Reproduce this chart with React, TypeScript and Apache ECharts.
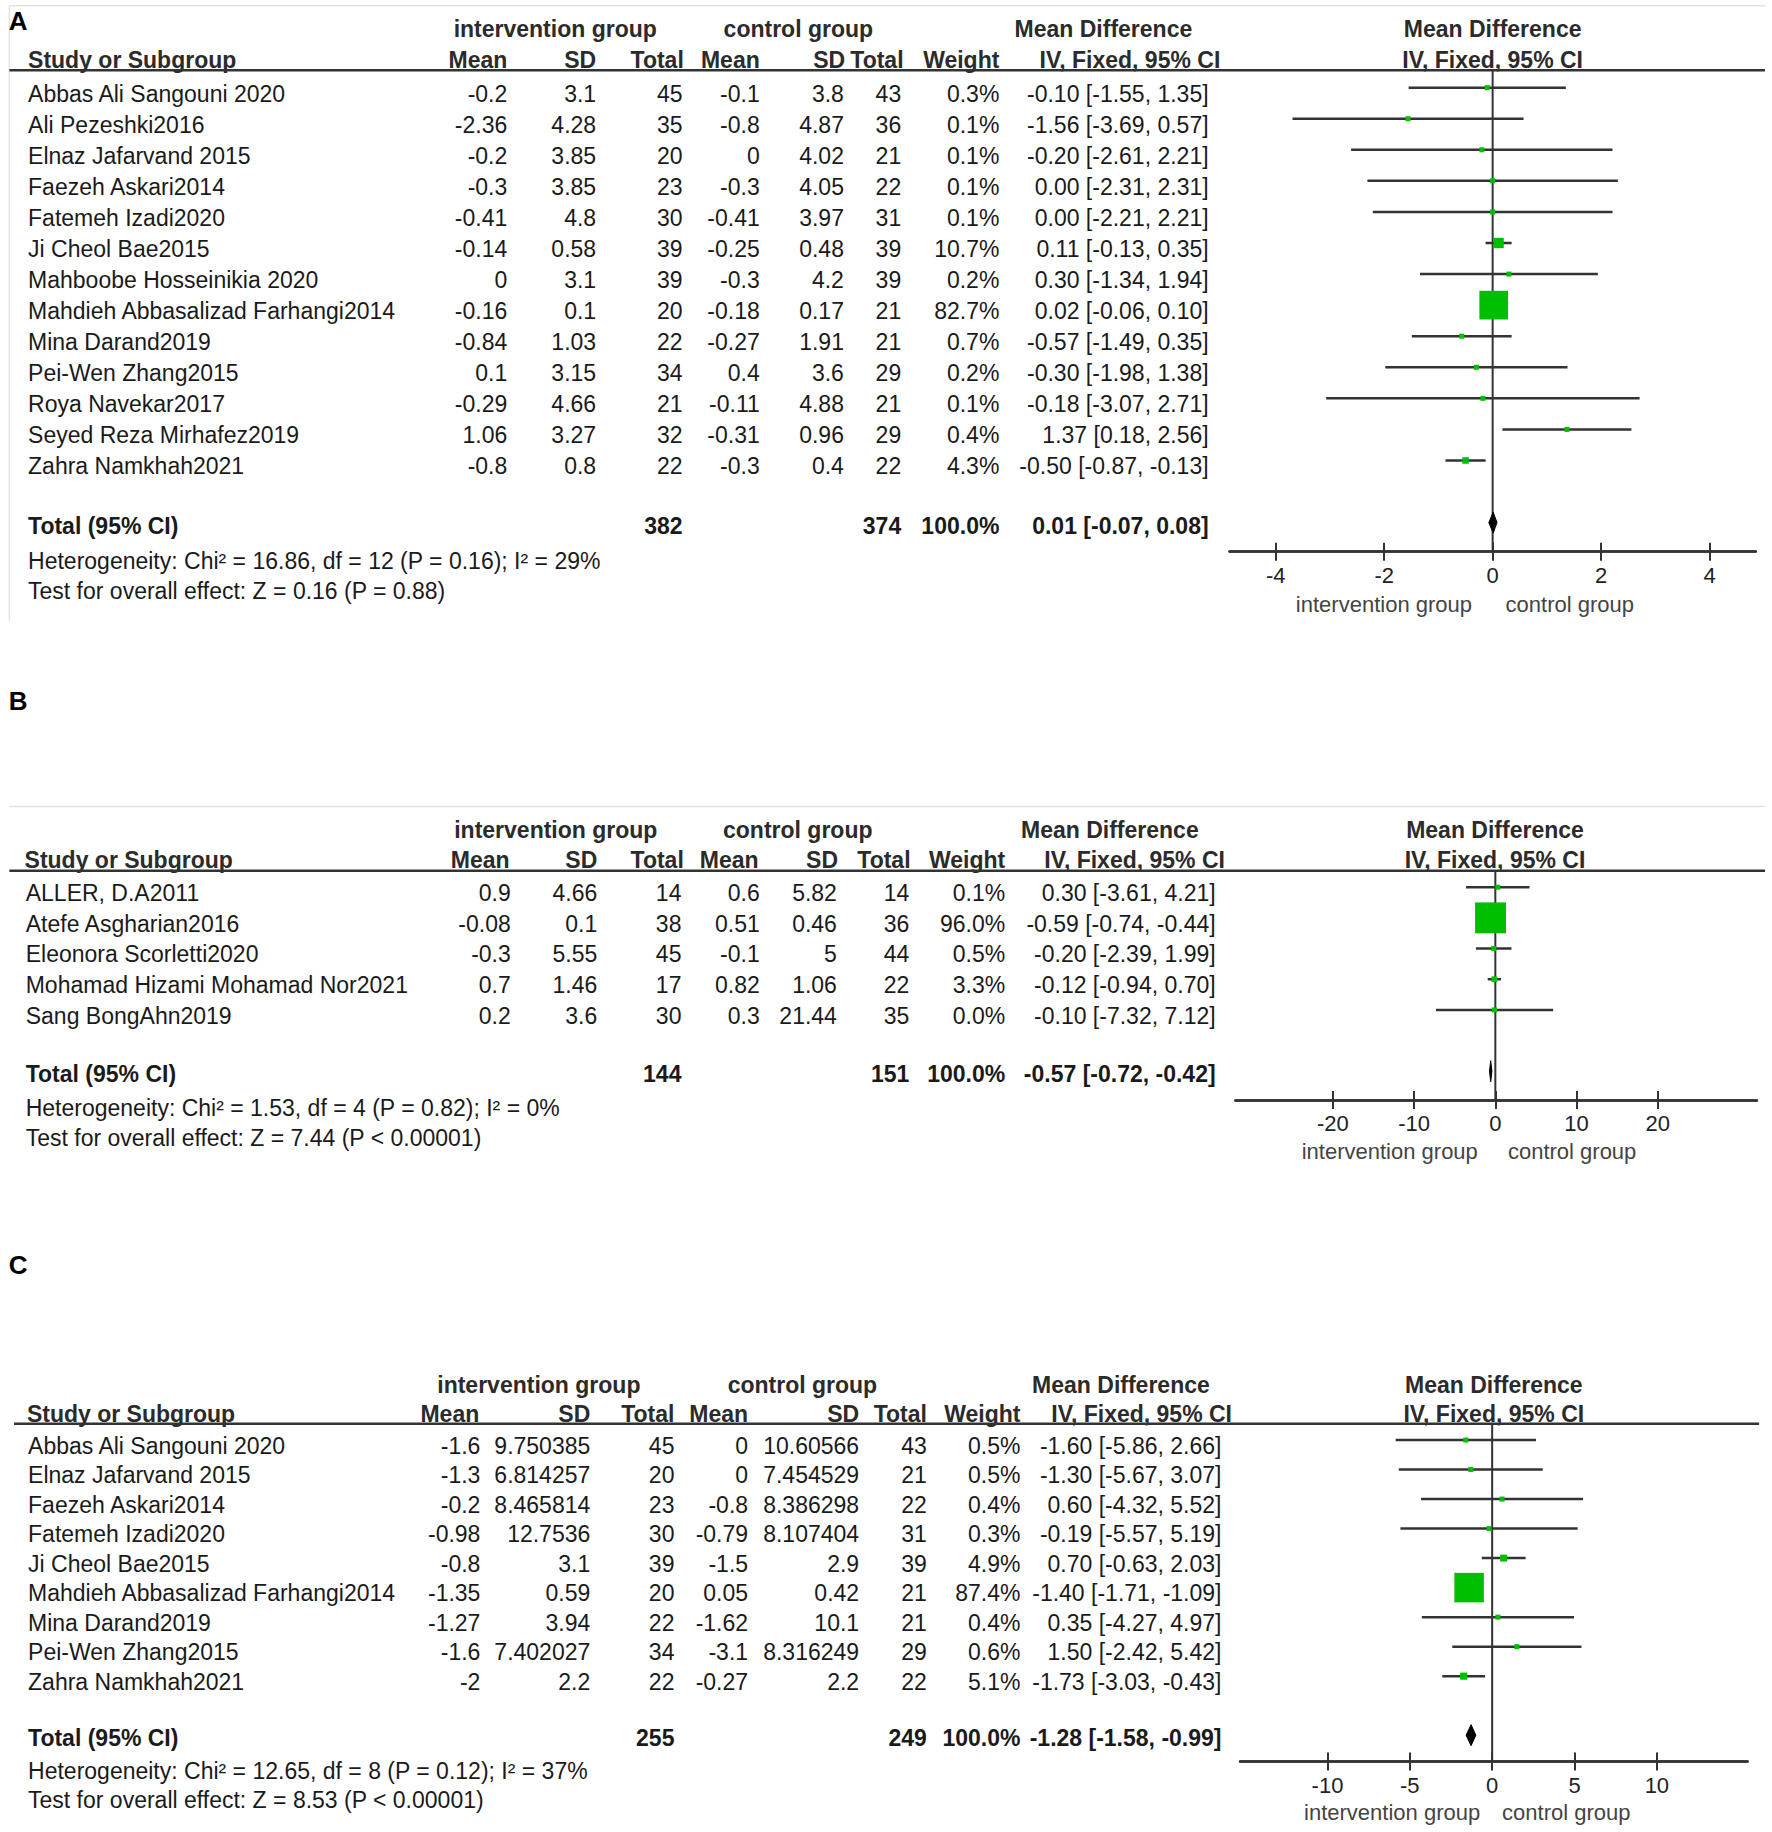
import React, { useEffect, useRef } from "react";
import * as echarts from "echarts";

const S = 1772 / 1516;
const FONT = '"Liberation Sans", Arial, Helvetica, sans-serif';
const TXT = "#1a1a1a";
const HDR = "#2b2b2b";
const LINE = "#333333";
const GREEN = "#00bf00";

// ---------- Panel A ----------
const aNames = [
  "Abbas Ali Sangouni 2020", "Ali Pezeshki2016", "Elnaz Jafarvand 2015", "Faezeh Askari2014",
  "Fatemeh Izadi2020", "Ji Cheol Bae2015", "Mahboobe Hosseinikia 2020", "Mahdieh Abbasalizad Farhangi2014",
  "Mina Darand2019", "Pei-Wen Zhang2015", "Roya Navekar2017", "Seyed Reza Mirhafez2019", "Zahra Namkhah2021",
];
const aIntMean = [-0.2, -2.36, -0.2, -0.3, -0.41, -0.14, 0, -0.16, -0.84, 0.1, -0.29, 1.06, -0.8];
const aIntSD = [3.1, 4.28, 3.85, 3.85, 4.8, 0.58, 3.1, 0.1, 1.03, 3.15, 4.66, 3.27, 0.8];
const aIntN = [45, 35, 20, 23, 30, 39, 39, 20, 22, 34, 21, 32, 22];
const aCtlMean = [-0.1, -0.8, 0, -0.3, -0.41, -0.25, -0.3, -0.18, -0.27, 0.4, -0.11, -0.31, -0.3];
const aCtlSD = [3.8, 4.87, 4.02, 4.05, 3.97, 0.48, 4.2, 0.17, 1.91, 3.6, 4.88, 0.96, 0.4];
const aCtlN = [43, 36, 21, 22, 31, 39, 39, 21, 21, 29, 21, 29, 22];
const aWeight = [0.3, 0.1, 0.1, 0.1, 0.1, 10.7, 0.2, 82.7, 0.7, 0.2, 0.1, 0.4, 4.3];
const aMD = [-0.1, -1.56, -0.2, 0.0, 0.0, 0.11, 0.3, 0.02, -0.57, -0.3, -0.18, 1.37, -0.5];
const aLo = [-1.55, -3.69, -2.61, -2.31, -2.21, -0.13, -1.34, -0.06, -1.49, -1.98, -3.07, 0.18, -0.87];
const aHi = [1.35, 0.57, 2.21, 2.31, 2.21, 0.35, 1.94, 0.1, 0.35, 1.38, 2.71, 2.56, -0.13];
const aTotal = { n1: 382, n2: 374, md: 0.01, lo: -0.07, hi: 0.08 };
const aHet = "Heterogeneity: Chi² = 16.86, df = 12 (P = 0.16); I² = 29%";
const aTest = "Test for overall effect: Z = 0.16 (P = 0.88)";
const aTicks = [-4, -2, 0, 2, 4];

// ---------- Panel B ----------
const bNames = [
  "ALLER, D.A2011", "Atefe Asgharian2016", "Eleonora Scorletti2020", "Mohamad Hizami Mohamad Nor2021", "Sang BongAhn2019",
];
const bIntMean = [0.9, -0.08, -0.3, 0.7, 0.2];
const bIntSD = [4.66, 0.1, 5.55, 1.46, 3.6];
const bIntN = [14, 38, 45, 17, 30];
const bCtlMean = [0.6, 0.51, -0.1, 0.82, 0.3];
const bCtlSD = [5.82, 0.46, 5, 1.06, 21.44];
const bCtlN = [14, 36, 44, 22, 35];
const bWeight = [0.1, 96.0, 0.5, 3.3, 0.0];
const bMD = [0.3, -0.59, -0.2, -0.12, -0.1];
const bLo = [-3.61, -0.74, -2.39, -0.94, -7.32];
const bHi = [4.21, -0.44, 1.99, 0.7, 7.12];
const bTotal = { n1: 144, n2: 151, md: -0.57, lo: -0.72, hi: -0.42 };
const bHet = "Heterogeneity: Chi² = 1.53, df = 4 (P = 0.82); I² = 0%";
const bTest = "Test for overall effect: Z = 7.44 (P < 0.00001)";
const bTicks = [-20, -10, 0, 10, 20];

// ---------- Panel C ----------
const cNames = [
  "Abbas Ali Sangouni 2020", "Elnaz Jafarvand 2015", "Faezeh Askari2014", "Fatemeh Izadi2020", "Ji Cheol Bae2015",
  "Mahdieh Abbasalizad Farhangi2014", "Mina Darand2019", "Pei-Wen Zhang2015", "Zahra Namkhah2021",
];
const cIntMean = [-1.6, -1.3, -0.2, -0.98, -0.8, -1.35, -1.27, -1.6, -2];
const cIntSD = [9.750385, 6.814257, 8.465814, 12.7536, 3.1, 0.59, 3.94, 7.402027, 2.2];
const cIntN = [45, 20, 23, 30, 39, 20, 22, 34, 22];
const cCtlMean = [0, 0, -0.8, -0.79, -1.5, 0.05, -1.62, -3.1, -0.27];
const cCtlSD = [10.60566, 7.454529, 8.386298, 8.107404, 2.9, 0.42, 10.1, 8.316249, 2.2];
const cCtlN = [43, 21, 22, 31, 39, 21, 21, 29, 22];
const cWeight = [0.5, 0.5, 0.4, 0.3, 4.9, 87.4, 0.4, 0.6, 5.1];
const cMD = [-1.6, -1.3, 0.6, -0.19, 0.7, -1.4, 0.35, 1.5, -1.73];
const cLo = [-5.86, -5.67, -4.32, -5.57, -0.63, -1.71, -4.27, -2.42, -3.03];
const cHi = [2.66, 3.07, 5.52, 5.19, 2.03, -1.09, 4.97, 5.42, -0.43];
const cTotal = { n1: 255, n2: 249, md: -1.28, lo: -1.58, hi: -0.99 };
const cHet = "Heterogeneity: Chi² = 12.65, df = 8 (P = 0.12); I² = 37%";
const cTest = "Test for overall effect: Z = 8.53 (P < 0.00001)";
const cTicks = [-10, -5, 0, 5, 10];

const header1 = ["intervention group", "control group", "Mean Difference", "Mean Difference"];
const header2 = ["Mean", "SD", "Total", "Mean", "SD", "Total", "Weight", "IV, Fixed, 95% CI"];
const groupLabels = ["intervention group", "control group"];

// layout (in reference-display units, scaled by S)
const panels = [
  {
    letter: "A", letterY: 18, frameTop: 5, frameLeftBottom: 531,
    h1Y: 25, h2Y: 51, lineY: 60, lineX: [8, 1510], rowTop: 80, rowStep: 26.58, totalY: 450, hetY: 480, testY: 506,
    axisY: 472, fx: [1052, 1502], xr: [-4.85, 4.85], ticks: aTicks, grpY: 517, grpX: [1184, 1343],
    h1X: [475, 683, 944, 1277], h2X: [434, 510, 585, 650, 723, 773, 855, 1044], ivX: 1277, studyX: 24,
    dX: [434, 510, 584, 650, 722, 771, 855, 1034], nameX: 24,
    names: aNames, im: aIntMean, isd: aIntSD, inn: aIntN, cm: aCtlMean, csd: aCtlSD, cn: aCtlN,
    w: aWeight, md: aMD, lo: aLo, hi: aHi, total: aTotal, het: aHet, test: aTest,
  },
  {
    letter: "B", letterY: 600, frameTop: 690, frameLeftBottom: 0,
    h1Y: 710, h2Y: 736, lineY: 745, lineX: [8, 1510], rowTop: 764, rowStep: 26.25, totalY: 919, hetY: 948, testY: 974,
    axisY: 941, fx: [1057, 1503], xr: [-32, 32.2], ticks: bTicks, grpY: 985, grpX: [1189, 1345],
    h1X: [475.5, 682.5, 949.5, 1279], h2X: [436, 511, 585, 649, 717, 779, 860, 1048], ivX: 1279, studyX: 21,
    dX: [437, 511, 583, 650, 716, 778, 860, 1040], nameX: 22,
    names: bNames, im: bIntMean, isd: bIntSD, inn: bIntN, cm: bCtlMean, csd: bCtlSD, cn: bCtlN,
    w: bWeight, md: bMD, lo: bLo, hi: bHi, total: bTotal, het: bHet, test: bTest,
  },
  {
    letter: "C", letterY: 1082, frameTop: 0, frameLeftBottom: 0,
    h1Y: 1185, h2Y: 1210, lineY: 1218, lineX: [12, 1505], rowTop: 1237, rowStep: 25.25, totalY: 1487, hetY: 1515, testY: 1540,
    axisY: 1507, fx: [1061, 1495], xr: [-15.3, 15.5], ticks: cTicks, grpY: 1551, grpX: [1191, 1340],
    h1X: [461, 686.5, 959, 1278], h2X: [410, 505, 577, 640, 735, 793, 873, 1054], ivX: 1278, studyX: 23,
    dX: [411, 505, 577, 640, 735, 793, 873, 1045], nameX: 24,
    names: cNames, im: cIntMean, isd: cIntSD, inn: cIntN, cm: cCtlMean, csd: cCtlSD, cn: cCtlN,
    w: cWeight, md: cMD, lo: cLo, hi: cHi, total: cTotal, het: cHet, test: cTest,
  },
];

const FORE_OFF = -5; // forest row centre relative to text row centre

const fmtCI = (m: number, l: number, h: number) => `${m.toFixed(2)} [${l.toFixed(2)}, ${h.toFixed(2)}]`;

function txt(text: string, x: number, y: number, align: string, bold = false, size = 23, color = TXT) {
  return {
    type: "text",
    x: x * S,
    y: y * S,
    silent: true,
    style: {
      text,
      fill: color,
      font: `${bold ? "bold " : ""}${size}px ${FONT}`,
      textAlign: align,
      align,
      textVerticalAlign: "middle",
      verticalAlign: "middle",
    },
  };
}
function ln(x1: number, y1: number, x2: number, y2: number, color: string, w: number) {
  return {
    type: "line",
    silent: true,
    shape: { x1: x1 * S, y1: y1 * S, x2: x2 * S, y2: y2 * S },
    style: { stroke: color, lineWidth: w },
  };
}

function buildOption() {
  const graphic: any[] = [];
  const grid: any[] = [];
  const xAxis: any[] = [];
  const yAxis: any[] = [];
  const series: any[] = [];

  panels.forEach((p, pi) => {
    // frame lines
    if (p.frameTop) graphic.push(ln(8, p.frameTop, 1510, p.frameTop, "#e4e4e4", 1.5));
    if (p.frameLeftBottom) graphic.push(ln(8, p.frameTop, 8, p.frameLeftBottom, "#e4e4e4", 1.5));
    // letter
    graphic.push(txt(p.letter, 7.5, p.letterY, "left", true, 26, "#000"));
    // headers
    header1.forEach((h, i) => graphic.push(txt(h, p.h1X[i], p.h1Y, "center", true, 23, HDR)));
    graphic.push(txt("Study or Subgroup", p.studyX, p.h2Y, "left", true, 23, HDR));
    header2.forEach((h, i) => graphic.push(txt(h, p.h2X[i], p.h2Y, "right", true, 23, HDR)));
    graphic.push(txt("IV, Fixed, 95% CI", p.ivX, p.h2Y, "center", true, 23, HDR));
    graphic.push(ln(p.lineX[0], p.lineY, p.lineX[1], p.lineY, LINE, 2.5));
    // rows
    p.names.forEach((name, i) => {
      const y = p.rowTop + i * p.rowStep;
      graphic.push(txt(name, p.nameX, y, "left"));
      const cells = [
        String(p.im[i]), String(p.isd[i]), String(p.inn[i]),
        String(p.cm[i]), String(p.csd[i]), String(p.cn[i]),
        `${p.w[i].toFixed(1)}%`, fmtCI(p.md[i], p.lo[i], p.hi[i]),
      ];
      cells.forEach((c, j) => graphic.push(txt(c, p.dX[j], y, "right")));
    });
    // total
    graphic.push(txt("Total (95% CI)", p.nameX, p.totalY, "left", true));
    graphic.push(txt(String(p.total.n1), p.dX[2], p.totalY, "right", true));
    graphic.push(txt(String(p.total.n2), p.dX[5], p.totalY, "right", true));
    graphic.push(txt("100.0%", p.dX[6], p.totalY, "right", true));
    graphic.push(txt(fmtCI(p.total.md, p.total.lo, p.total.hi), p.dX[7], p.totalY, "right", true));
    graphic.push(txt(p.het, p.nameX, p.hetY, "left"));
    graphic.push(txt(p.test, p.nameX, p.testY, "left"));
    // group labels under axis
    graphic.push(txt(groupLabels[0], p.grpX[0], p.grpY, "center", false, 22, "#444"));
    graphic.push(txt(groupLabels[1], p.grpX[1], p.grpY, "center", false, 22, "#444"));

    // forest grid
    const c0 = p.rowTop + FORE_OFF;
    const yMin = (p.lineY - c0) / p.rowStep;
    const yMax = (p.axisY - c0) / p.rowStep;
    grid.push({
      left: p.fx[0] * S,
      top: p.lineY * S,
      width: (p.fx[1] - p.fx[0]) * S,
      height: (p.axisY - p.lineY) * S,
      containLabel: false,
    });
    const baseX = {
      type: "value",
      gridIndex: pi,
      min: p.xr[0],
      max: p.xr[1],
      position: "bottom",
      splitLine: { show: false },
      axisLine: { show: true, onZero: false, lineStyle: { color: LINE, width: 2.5 } },
    };
    xAxis.push({
      ...baseX,
      axisTick: { show: true, length: 9, customValues: p.ticks, lineStyle: { color: LINE, width: 2 } },
      axisLabel: {
        show: true, customValues: p.ticks, margin: 13, fontSize: 22, color: "#222", fontFamily: FONT,
      },
    });
    xAxis.push({
      ...baseX,
      axisTick: { show: true, inside: true, length: 9, customValues: p.ticks, lineStyle: { color: LINE, width: 2 } },
      axisLabel: { show: false },
    });
    yAxis.push({ type: "value", gridIndex: pi, min: yMin, max: yMax, inverse: true, show: false });

    const totalIdx = p.names.length + 1;
    // zero line
    series.push({
      type: "line",
      xAxisIndex: pi * 2,
      yAxisIndex: pi,
      data: [[0, yMin], [0, yMax]],
      symbol: "none",
      lineStyle: { color: LINE, width: 2 },
      z: 1,
      silent: true,
    });
    // studies
    series.push({
      type: "custom",
      xAxisIndex: pi * 2,
      yAxisIndex: pi,
      z: 3,
      silent: true,
      encode: { x: 0, y: 1 },
      data: p.md.map((m, i) => [m, i, p.lo[i], p.hi[i], p.w[i]]),
      renderItem: (params: any, api: any) => {
        const m = api.value(0), idx = api.value(1), lo = api.value(2), hi = api.value(3), w = api.value(4);
        const c = api.coord([m, idx]);
        const l = api.coord([lo, idx]);
        const h = api.coord([hi, idx]);
        const side = Math.max(5, 2.7 * S * Math.sqrt(w));
        return {
          type: "group",
          children: [
            { type: "line", shape: { x1: l[0], y1: l[1], x2: h[0], y2: h[1] }, style: { stroke: LINE, lineWidth: 2.5 } },
            { type: "rect", shape: { x: c[0] - side / 2, y: c[1] - side / 2, width: side, height: side }, style: { fill: GREEN } },
          ],
        };
      },
    });
    // total diamond
    series.push({
      type: "custom",
      xAxisIndex: pi * 2,
      yAxisIndex: pi,
      z: 3,
      silent: true,
      encode: { x: 0, y: 1 },
      data: [[p.total.md, totalIdx, p.total.lo, p.total.hi]],
      renderItem: (params: any, api: any) => {
        const m = api.value(0), idx = api.value(1), lo = api.value(2), hi = api.value(3);
        const c = api.coord([m, idx]);
        const l = api.coord([lo, idx]);
        const h = api.coord([hi, idx]);
        const hh = 10.5;
        return {
          type: "polygon",
          shape: { points: [[l[0], c[1]], [c[0], c[1] - hh], [h[0], c[1]], [c[0], c[1] + hh]] },
          style: { fill: "#000", stroke: "#000", lineWidth: 1 },
        };
      },
    });
  });

  return {
    animation: false,
    backgroundColor: "#ffffff",
    grid,
    xAxis,
    yAxis,
    series,
    graphic,
  };
}

export default function App() {
  const ref = useRef<HTMLDivElement>(null);
  useEffect(() => {
    document.body.style.margin = "0";
    if (!ref.current) return;
    const chart = echarts.init(ref.current, undefined, { renderer: "svg" });
    chart.setOption(buildOption() as any);
    return () => chart.dispose();
  }, []);
  return <div ref={ref} style={{ width: 1772, height: 1832, background: "#fff" }} />;
}
